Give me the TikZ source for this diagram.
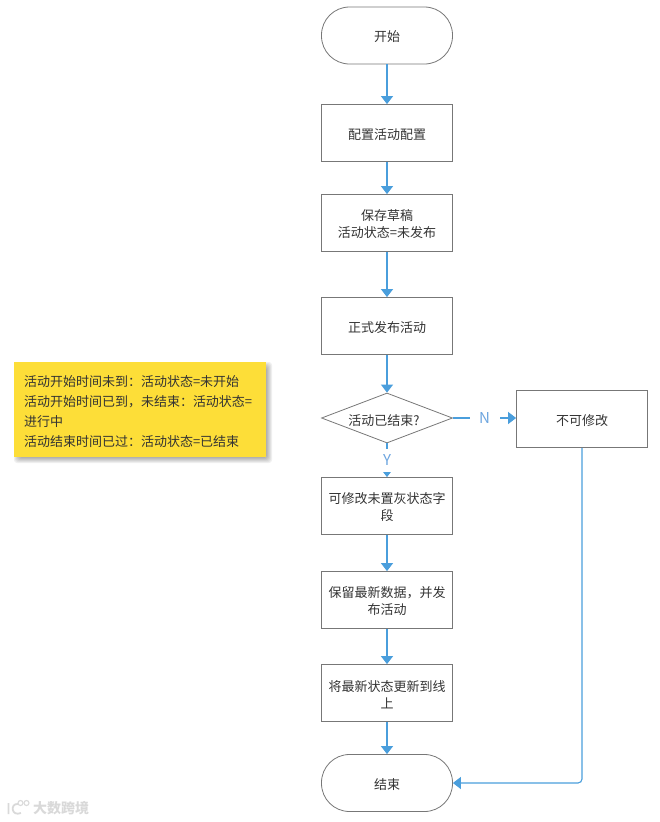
\documentclass[tikz,border=0pt]{standalone}
\usepackage{xcolor}
\usepackage{fontspec}
\setmainfont{Noto Sans CJK SC}
\usetikzlibrary{positioning,arrows.meta,shapes.geometric}

\definecolor{linkblue}{HTML}{4A9EDC}
\definecolor{labelblue}{HTML}{6EA6E0}
\definecolor{boxgray}{HTML}{777777}
\definecolor{textgray}{HTML}{333333}
\definecolor{noteyellow}{HTML}{FDDE38}

\begin{document}
\begin{tikzpicture}[
  x=1pt, y=-1pt,
  box/.style={draw=boxgray, rectangle, minimum width=131pt, minimum height=57pt, inner sep=2pt, align=center, text width=120pt, font=\fontsize{13pt}{17pt}\selectfont, text=textgray, line width=0.8pt, execute at begin node=\rule{0pt}{14pt}},
  terminal/.style={box, rounded corners=28pt},
  decision/.style={draw=boxgray, diamond, minimum width=131pt, minimum height=50pt, aspect=2.4, inner sep=0pt, font=\fontsize{13pt}{17pt}\selectfont, text=textgray, line width=0.8pt, execute at begin node=\rule{0pt}{16pt}},
  note/.style={rectangle, fill=noteyellow, minimum width=252pt, minimum height=95pt, inner sep=0pt, align=left, text width=232pt, font=\fontsize{13pt}{20pt}\selectfont, text=textgray, execute at begin node=\rule{0pt}{16pt}},
  link/.style={draw=linkblue, line width=1.1pt, -{Triangle[width=12pt,length=8pt]}},
  branch/.style={font=\fontsize{15pt}{16pt}\selectfont, text=labelblue, fill=white, inner sep=0pt, minimum width=30pt, minimum height=23pt},
  brandmark/.style={font=\fontsize{14pt}{16pt}\selectfont\bfseries, text=black!15}
]
\useasboundingbox (0,0) rectangle (660,822);

% Main column
\node[terminal] (start) at (387,35.5) {开始};
\node[box] (config) at (387,133) {配置活动配置};
\node[box] (draft) at (387,223) {保存草稿\\活动状态=未发布};
\node[box] (publish) at (387,326) {正式发布活动};
\node[decision] (ended) at (387,418) {活动已结束?\kern6pt};
\node[box] (edit) at (387,506) {可修改未置灰状态字\\段};
\node[box] (save) at (387,600) {保留最新数据，并发\\布活动};
\node[box] (update) at (387,693) {将最新状态更新到线\\上};
\node[terminal] (finish) at (387,783) {结束};

% Side branch
\node[box] (locked) at (582,419) {不可修改};

% Note
\foreach \d in {-2,...,3}
  \fill[black, opacity=0.06, rounded corners=3pt] (17-\d,365-\d) rectangle (269+\d,460+\d);
\node[note] (info) at (140,409.5) {活动开始时间未到：活动状态=未开始\\活动开始时间已到，未结束：活动状态=\\进行中\\活动结束时间已过：活动状态=已结束};

% Connectors
\draw[link] (start) -- (config);
\draw[link] (config) -- (draft);
\draw[link] (draft) -- (publish);
\draw[link] (publish) -- (ended);
\draw[link] (ended) -- node[branch] {Y} (edit);
\draw[link] (ended.east) -- node[branch] {N} (locked.west |- ended.east);
\draw[link] (edit) -- (save);
\draw[link] (save) -- (update);
\draw[link] (update) -- (finish);
\draw[link, rounded corners=4pt] (locked) |- (finish);

% Watermark
\node[brandmark, anchor=west, inner sep=0pt] (brand) at (33,808) {大数跨境};
\node[draw=black!15, line width=1.1pt, circle, minimum size=5pt, inner sep=0pt] (dota) at (20.5,803) {};
\node[draw=black!15, line width=1.1pt, circle, minimum size=5pt, inner sep=0pt] (dotb) at (26.5,803) {};
\draw[black!15, line width=1.8pt] (8.5,803) -- (8.5,814) (18,804) .. controls (10,803) and (11,817) .. (21,813);
\end{tikzpicture}
\end{document}
